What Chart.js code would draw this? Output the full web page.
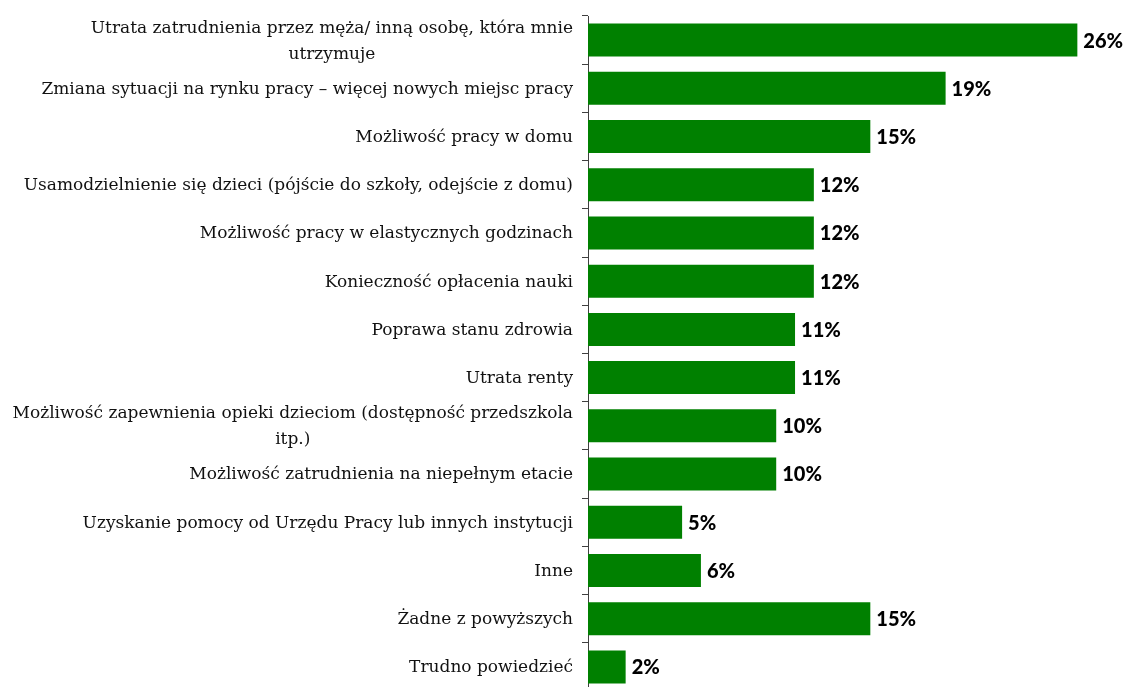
<!DOCTYPE html>
<html lang="pl">
<head>
<meta charset="utf-8">
<title>Czynniki skłaniające do podjęcia pracy</title>
<script src="https://cdn.jsdelivr.net/npm/chart.js@4.4.1/dist/chart.umd.min.js"></script>
<style>
  html, body { margin: 0; padding: 0; background: #fff; overflow: hidden; }
  #wrap { width: 1125px; height: 691px; position: relative; }
</style>
</head>
<body>
<div id="wrap"><canvas id="chart"></canvas></div>
<script>
const categories = [
  ["Utrata zatrudnienia przez męża/ inną osobę, która mnie", "utrzymuje"],
  ["Zmiana sytuacji na rynku pracy – więcej nowych miejsc pracy"],
  ["Możliwość pracy w domu"],
  ["Usamodzielnienie się dzieci (pójście do szkoły, odejście z domu)"],
  ["Możliwość pracy w elastycznych godzinach"],
  ["Konieczność opłacenia nauki"],
  ["Poprawa stanu zdrowia"],
  ["Utrata renty"],
  ["Możliwość zapewnienia opieki dzieciom (dostępność przedszkola", "itp.)"],
  ["Możliwość zatrudnienia na niepełnym etacie"],
  ["Uzyskanie pomocy od Urzędu Pracy lub innych instytucji"],
  ["Inne"],
  ["Żadne z powyższych"],
  ["Trudno powiedzieć"]
];
const values = [26, 19, 15, 12, 12, 12, 11, 11, 10, 10, 5, 6, 15, 2];

const AXIS_X = 588;

// category labels: each wrapped label is centred on its widest line, flush right to the axis
const categoryLabels = {
  id: "categoryLabels",
  afterDraw(chart) {
    const { ctx } = chart;
    const y = chart.scales.y;
    const right = chart.chartArea.left - 15;
    const lh = 26;
    ctx.save();
    ctx.font = "17px 'DejaVu Serif'";
    ctx.fillStyle = "#111";
    ctx.textBaseline = "middle";
    ctx.textAlign = "center";
    categories.forEach((lines, i) => {
      const cy = y.getPixelForValue(i) + 1;
      const w = Math.max(...lines.map(l => ctx.measureText(l).width));
      const cx = right - w / 2;
      lines.forEach((line, j) => {
        ctx.fillText(line, cx, cy + (j - (lines.length - 1) / 2) * lh);
      });
    });
    ctx.restore();
  }
};

// percentage at the end of each bar
const valueLabels = {
  id: "valueLabels",
  afterDatasetsDraw(chart) {
    const { ctx } = chart;
    const meta = chart.getDatasetMeta(0);
    ctx.save();
    ctx.font = "900 20px Lato";
    ctx.fillStyle = "#000";
    ctx.textAlign = "left";
    ctx.textBaseline = "middle";
    meta.data.forEach((bar, i) => {
      ctx.fillText(values[i] + "%", bar.x + 6, bar.y + 1);
    });
    ctx.restore();
  }
};

new Chart(document.getElementById("chart"), {
  type: "bar",
  data: {
    labels: categories.map(l => l.join(" ")),
    datasets: [{
      data: values,
      backgroundColor: "#008000",
      borderWidth: 0,
      barPercentage: 0.685,
      categoryPercentage: 1
    }]
  },
  options: {
    indexAxis: "y",
    responsive: true,
    maintainAspectRatio: false,
    animation: false,
    layout: { padding: { top: 16, right: 10, bottom: 0, left: 0 } },
    plugins: {
      legend: { display: false },
      tooltip: { enabled: false }
    },
    scales: {
      x: { display: false, min: 0, max: 28 },
      y: {
        ticks: { display: false },
        grid: {
          display: true,
          drawOnChartArea: false,
          drawTicks: true,
          tickLength: 6,
          offset: true,
          color: "#404040"
        },
        border: { display: true, color: "#404040", width: 1 },
        afterFit(scale) { scale.width = AXIS_X; }
      }
    }
  },
  plugins: [categoryLabels, valueLabels]
});
</script>
</body>
</html>
